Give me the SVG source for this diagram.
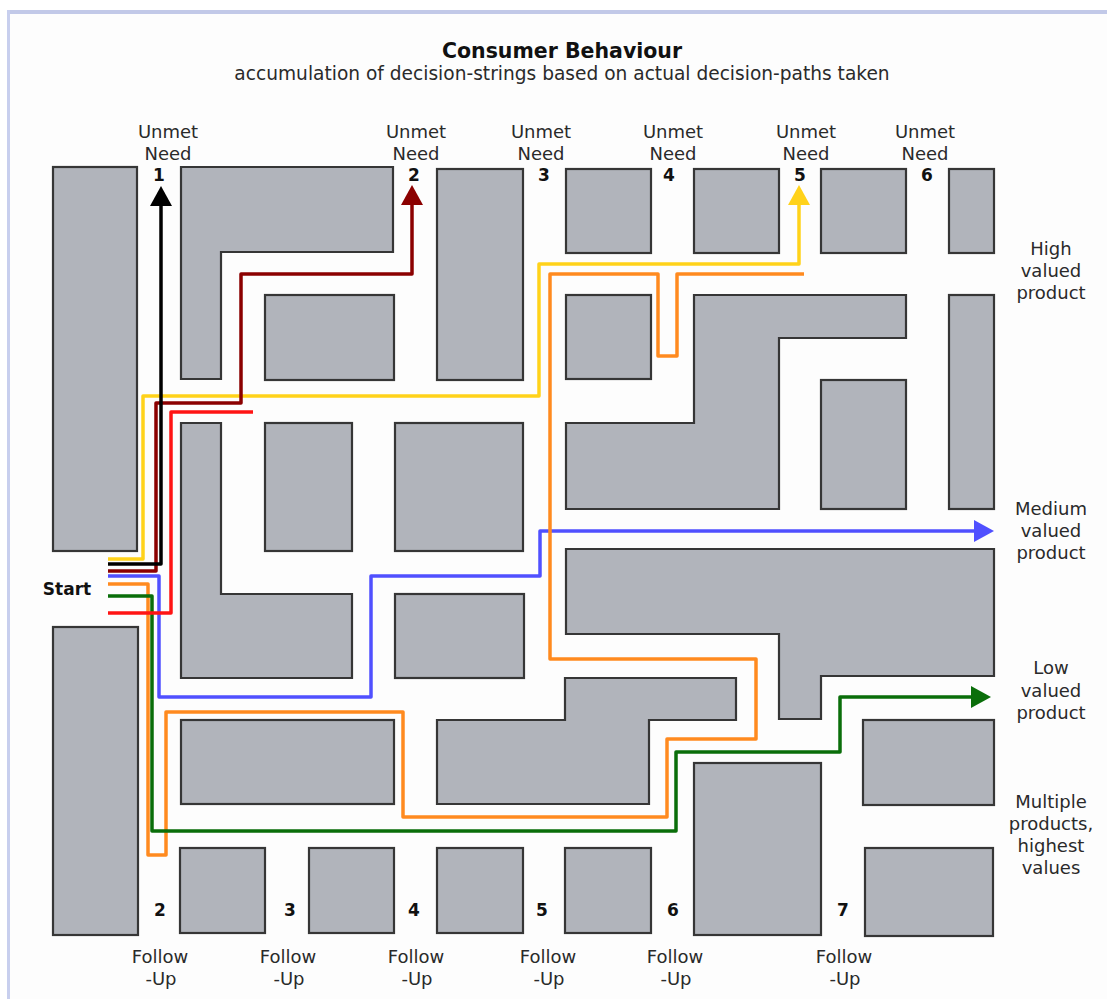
<svg xmlns="http://www.w3.org/2000/svg" width="1107" height="999" viewBox="0 0 1107 999">
<style>
.blk{fill:#b1b4bb;stroke:#363636;stroke-width:2.2;stroke-linejoin:miter}
.t{font-family:"DejaVu Sans",Verdana,sans-serif;font-size:18px;fill:#2a2a2a;text-anchor:middle}
.n{font-family:"DejaVu Sans",Verdana,sans-serif;font-size:17px;font-weight:bold;fill:#111;text-anchor:middle}
.ln{fill:none;stroke-width:3.5;stroke-linejoin:round;stroke-linecap:butt}
</style>
<defs>
<marker id="aK" markerUnits="userSpaceOnUse" markerWidth="21" markerHeight="22" refX="0" refY="11" orient="auto" overflow="visible"><path d="M0,0 L20,11 L0,22 Z" fill="#000"/></marker>
<marker id="aD" markerUnits="userSpaceOnUse" markerWidth="21" markerHeight="22" refX="0" refY="11" orient="auto" overflow="visible"><path d="M0,0 L20,11 L0,22 Z" fill="#8b0000"/></marker>
<marker id="aY" markerUnits="userSpaceOnUse" markerWidth="21" markerHeight="22" refX="0" refY="11" orient="auto" overflow="visible"><path d="M0,0 L20,11 L0,22 Z" fill="#ffd21a"/></marker>
<marker id="aB" markerUnits="userSpaceOnUse" markerWidth="21" markerHeight="22" refX="0" refY="11" orient="auto" overflow="visible"><path d="M0,0 L20,11 L0,22 Z" fill="#5050ff"/></marker>
<marker id="aG" markerUnits="userSpaceOnUse" markerWidth="21" markerHeight="22" refX="0" refY="11" orient="auto" overflow="visible"><path d="M0,0 L20,11 L0,22 Z" fill="#0a6e0a"/></marker>
</defs>
<rect x="0" y="0" width="1107" height="999" fill="#ffffff"/>
<rect x="7" y="10" width="1100" height="989" fill="#fdfdfd"/>
<rect x="7" y="10" width="1100" height="4" fill="#c2c9e8"/>
<rect x="7" y="10" width="3" height="989" fill="#c8cfee"/>

<g id="title">
<text x="562" y="58" style="font-family:'DejaVu Sans',Verdana,sans-serif;font-size:20.5px;font-weight:bold;fill:#111;text-anchor:middle">Consumer Behaviour</text>
<text x="562" y="80" class="t" style="font-size:18.6px">accumulation of decision-strings based on actual decision-paths taken</text>
</g>

<g id="blocks">
<rect id="b1" class="blk" x="53" y="167" width="84" height="384"/>
<path id="b2" class="blk" d="M181,167 H393 V252 H221 V379 H181 Z"/>
<rect id="b3" class="blk" x="265" y="295" width="129" height="85"/>
<rect id="b4" class="blk" x="437" y="169" width="86" height="211"/>
<rect id="b5" class="blk" x="566" y="169" width="85" height="84"/>
<rect id="b6" class="blk" x="694" y="169" width="85" height="84"/>
<rect id="b7" class="blk" x="821" y="169" width="85" height="84"/>
<rect id="b8" class="blk" x="949" y="169" width="45" height="84"/>
<rect id="b9" class="blk" x="566" y="295" width="85" height="84"/>
<path id="b10" class="blk" d="M694,295 H906 V338 H779 V509 H566 V423 H694 Z"/>
<rect id="b11" class="blk" x="821" y="380" width="85" height="129"/>
<rect id="b12" class="blk" x="949" y="295" width="45" height="214"/>
<path id="b13" class="blk" d="M181,423 H221 V594 H352 V678 H181 Z"/>
<rect id="b14" class="blk" x="265" y="423" width="87" height="128"/>
<rect id="b15" class="blk" x="395" y="423" width="128" height="128"/>
<rect id="b16" class="blk" x="395" y="594" width="129" height="84"/>
<path id="b17" class="blk" d="M566,549 H994 V676 H821 V719 H779 V634 H566 Z"/>
<rect id="b18" class="blk" x="181" y="720" width="213" height="84"/>
<path id="b19" class="blk" d="M437,720 H565 V678 H736 V720 H649 V804 H437 Z"/>
<rect id="b20" class="blk" x="694" y="763" width="127" height="172"/>
<rect id="b21" class="blk" x="863" y="720" width="131" height="85"/>
<rect id="b22" class="blk" x="865" y="848" width="128" height="88"/>
<rect id="b23" class="blk" x="53" y="627" width="85" height="308"/>
<rect id="b24" class="blk" x="180" y="848" width="85" height="85"/>
<rect id="b25" class="blk" x="309" y="848" width="85" height="85"/>
<rect id="b26" class="blk" x="437" y="848" width="86" height="85"/>
<rect id="b27" class="blk" x="565" y="848" width="86" height="85"/>
</g>

<g id="connectors">
<path class="ln" stroke="#5050ff" marker-end="url(#aB)" d="M108,576 H159 V697 H371 V576 H540 V531 H974"/>
<path class="ln" stroke="#ff8a1f" d="M108,584 H148 V855 H166 V712 H403 V817 H667 V739 H756 V659 H550 V274 H658 V356 H677 V274 H804"/>
<path class="ln" stroke="#0a6e0a" marker-end="url(#aG)" d="M108,596 H152 V831 H676 V752 H840 V697 H971"/>
<path class="ln" stroke="#ffd21a" marker-end="url(#aY)" d="M108,559 H143 V396 H539 V264 H799 V205"/>
<path class="ln" stroke="#ff1414" d="M108,613 H171 V412 H253"/>
<path class="ln" stroke="#8b0000" marker-end="url(#aD)" d="M108,571 H156 V403 H241 V274 H412 V205"/>
<path class="ln" stroke="#000000" marker-end="url(#aK)" d="M108,564 H161 V206"/>
</g>

<g id="unmet1"><text class="t" x="168" y="138">Unmet</text><text class="t" x="168" y="160">Need</text><text class="n" x="159" y="181">1</text></g>
<g id="unmet2"><text class="t" x="416" y="138">Unmet</text><text class="t" x="416" y="160">Need</text><text class="n" x="414" y="181">2</text></g>
<g id="unmet3"><text class="t" x="541" y="138">Unmet</text><text class="t" x="541" y="160">Need</text><text class="n" x="544" y="181">3</text></g>
<g id="unmet4"><text class="t" x="673" y="138">Unmet</text><text class="t" x="673" y="160">Need</text><text class="n" x="669" y="181">4</text></g>
<g id="unmet5"><text class="t" x="806" y="138">Unmet</text><text class="t" x="806" y="160">Need</text><text class="n" x="800" y="181">5</text></g>
<g id="unmet6"><text class="t" x="925" y="138">Unmet</text><text class="t" x="925" y="160">Need</text><text class="n" x="927" y="181">6</text></g>

<g id="high"><text class="t" x="1051" y="255">High</text><text class="t" x="1051" y="277">valued</text><text class="t" x="1051" y="299">product</text></g>
<g id="medium"><text class="t" x="1051" y="515">Medium</text><text class="t" x="1051" y="537">valued</text><text class="t" x="1051" y="559">product</text></g>
<g id="low"><text class="t" x="1051" y="674">Low</text><text class="t" x="1051" y="697">valued</text><text class="t" x="1051" y="719">product</text></g>
<g id="multiple"><text class="t" x="1051" y="808">Multiple</text><text class="t" x="1051" y="830">products,</text><text class="t" x="1051" y="852">highest</text><text class="t" x="1051" y="874">values</text></g>

<g id="start"><text x="67" y="595" style="font-family:'DejaVu Sans',Verdana,sans-serif;font-size:17px;font-weight:bold;fill:#111;text-anchor:middle">Start</text></g>

<g id="follow2"><text class="n" x="160" y="916">2</text><text class="t" x="160" y="963">Follow</text><text class="t" x="161" y="985">-Up</text></g>
<g id="follow3"><text class="n" x="290" y="916">3</text><text class="t" x="288" y="963">Follow</text><text class="t" x="289" y="985">-Up</text></g>
<g id="follow4"><text class="n" x="414" y="916">4</text><text class="t" x="416" y="963">Follow</text><text class="t" x="417" y="985">-Up</text></g>
<g id="follow5"><text class="n" x="542" y="916">5</text><text class="t" x="548" y="963">Follow</text><text class="t" x="549" y="985">-Up</text></g>
<g id="follow6"><text class="n" x="673" y="916">6</text><text class="t" x="675" y="963">Follow</text><text class="t" x="676" y="985">-Up</text></g>
<g id="follow7"><text class="n" x="843" y="916">7</text><text class="t" x="844" y="963">Follow</text><text class="t" x="845" y="985">-Up</text></g>
</svg>
